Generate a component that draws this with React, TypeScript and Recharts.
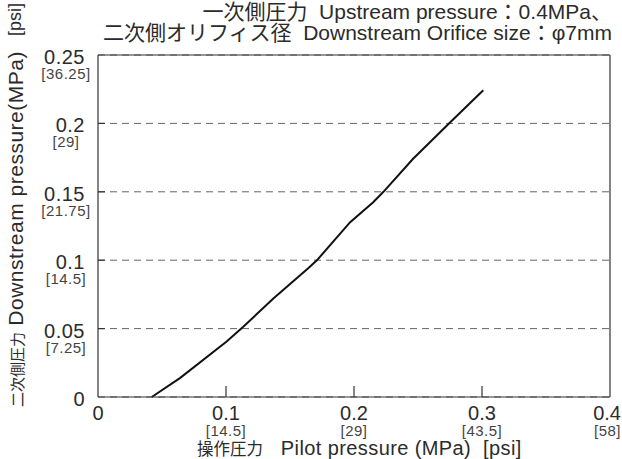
import { LineChart, Line, XAxis, YAxis, CartesianGrid, ReferenceLine } from 'recharts';

// Pilot pressure (MPa) vs downstream pressure (MPa)
const pilotMPa = [0.042, 0.064, 0.1005, 0.1135, 0.137, 0.164, 0.171, 0.197, 0.215, 0.223, 0.246, 0.275, 0.301];
const downstreamMPa = [0, 0.0138, 0.0405, 0.0514, 0.072, 0.0939, 0.0999, 0.1278, 0.1424, 0.15, 0.174, 0.2006, 0.2242];

const xTicks = [0, 0.1, 0.2, 0.3, 0.4];
const xTickLabels = ['0', '0.1', '0.2', '0.3', '0.4'];
const xTickPsi = ['', '[14.5]', '[29]', '[43.5]', '[58]'];

const yTicks = [0, 0.05, 0.1, 0.15, 0.2, 0.25];
const yTickLabels = ['0', '0.05', '0.1', '0.15', '0.2', '0.25'];
const yTickPsi = ['', '[7.25]', '[14.5]', '[21.75]', '[29]', '[36.25]'];

const titleLines = [
  '一次側圧力  Upstream pressure：0.4MPa、',
  '二次側オリフィス径  Downstream Orifice size：φ7mm',
];
const xTitleJa = '操作圧力';
const xTitleEn = '   Pilot pressure (MPa)  [psi]';
const yTitleJa = '二次側圧力';
const yTitleEn = ' Downstream pressure(MPa)';
const yTitleUnit = '[psi]';

const FONT = '"Liberation Sans", "Noto Sans CJK JP", sans-serif';
const TEXT = '#2b2b2b';
const SUB = '#444';
const FRAME = '#333';

// inward tick marks on the bottom axis, length in data units
const X_TICK_LEN = 0.008;

const data = pilotMPa.map((p, i) => ({ pilot: p, down: downstreamMPa[i] }));

function XTick(props: any) {
  const { x, y, index } = props;
  const last = index === xTicks.length - 1;
  const tx = last ? x + 11 : x;
  const anchor = last ? 'end' : 'middle';
  return (
    <g>
      <text x={tx} y={y + 23} textAnchor={anchor} fontSize={20} fill={TEXT} fontFamily={FONT}>
        {xTickLabels[index]}
      </text>
      {xTickPsi[index] && (
        <text x={tx} y={y + 39} textAnchor={anchor} fontSize={15} letterSpacing={0.5} fill={SUB} fontFamily={FONT}>
          {xTickPsi[index]}
        </text>
      )}
    </g>
  );
}

function YTick(props: any) {
  const { x, y, index } = props;
  const inner = index > 0 && index < yTicks.length - 1;
  // x is the plot's left edge (tickSize / tickMargin are 0)
  return (
    <g>
      {inner && <path d={`M${x},${y}h7`} stroke={FRAME} strokeWidth={1.2} fill="none" />}
      <text x={x - 13} y={y + 9} textAnchor="end" fontSize={20} letterSpacing={0.5} fill={TEXT} fontFamily={FONT}>
        {yTickLabels[index]}
      </text>
      {yTickPsi[index] && (
        <text x={x - 32} y={y + 24} textAnchor="middle" fontSize={15} letterSpacing={0.5} fill={SUB} fontFamily={FONT}>
          {yTickPsi[index]}
        </text>
      )}
    </g>
  );
}

export default function App() {
  return (
    <div style={{ width: 622, height: 459, position: 'relative', background: '#fff' }}>
      <style>{'body{margin:0}'}</style>
      <LineChart width={622} height={459} data={data} margin={{ top: 55, right: 12, bottom: 2, left: 2 }}>
        <CartesianGrid vertical={false} stroke="#666" strokeDasharray="7 5" />
        <XAxis
          type="number"
          dataKey="pilot"
          domain={[0, 0.4]}
          ticks={xTicks}
          height={60}
          tickSize={0}
          tickMargin={0}
          axisLine={{ stroke: FRAME, strokeWidth: 1.2 }}
          tickLine={false}
          tick={(p: any) => <XTick {...p} />}
          interval={0}
        />
        <YAxis
          type="number"
          domain={[0, 0.25]}
          ticks={yTicks}
          width={96}
          tickSize={0}
          tickMargin={0}
          axisLine={{ stroke: FRAME, strokeWidth: 1.2 }}
          tickLine={false}
          tick={(p: any) => <YTick {...p} />}
          interval={0}
        />
        <ReferenceLine y={0.25} stroke={FRAME} strokeWidth={1.2} />
        <ReferenceLine x={0.4} stroke={FRAME} strokeWidth={1.2} />
        {xTicks.slice(1, -1).map((v) => (
          <ReferenceLine
            key={'xt' + v}
            segment={[{ x: v, y: 0 }, { x: v, y: X_TICK_LEN }]}
            stroke={FRAME}
            strokeWidth={1.2}
            ifOverflow="visible"
          />
        ))}
        <Line
          type="linear"
          dataKey="down"
          stroke="#111"
          strokeWidth={2}
          dot={false}
          isAnimationActive={false}
        />
        <text x={612} y={19} textAnchor="end" fontSize={21} fill={TEXT} fontFamily={FONT} style={{ whiteSpace: 'pre' }}>
          {titleLines[0]}
        </text>
        <text x={612} y={40} textAnchor="end" fontSize={21} fill={TEXT} fontFamily={FONT} style={{ whiteSpace: 'pre' }}>
          {titleLines[1]}
        </text>
        <text x={197} y={455} textAnchor="start" fill={TEXT} fontFamily={FONT} style={{ whiteSpace: 'pre' }}>
          <tspan fontSize={16.5}>{xTitleJa}</tspan>
          <tspan fontSize={20} letterSpacing={0.4}>{xTitleEn}</tspan>
        </text>
        <text
          x={0}
          y={0}
          transform="translate(23, 407) rotate(-90)"
          textAnchor="start"
          fill={TEXT}
          fontFamily={FONT}
          style={{ whiteSpace: 'pre' }}
        >
          <tspan fontSize={15}>{yTitleJa}</tspan>
          <tspan fontSize={21} letterSpacing={0.5}>{yTitleEn}</tspan>
        </text>
        <text
          x={0}
          y={0}
          transform="translate(21, 3) rotate(-90)"
          textAnchor="end"
          fontSize={18}
          fill={TEXT}
          fontFamily={FONT}
        >
          {yTitleUnit}
        </text>
      </LineChart>
    </div>
  );
}
